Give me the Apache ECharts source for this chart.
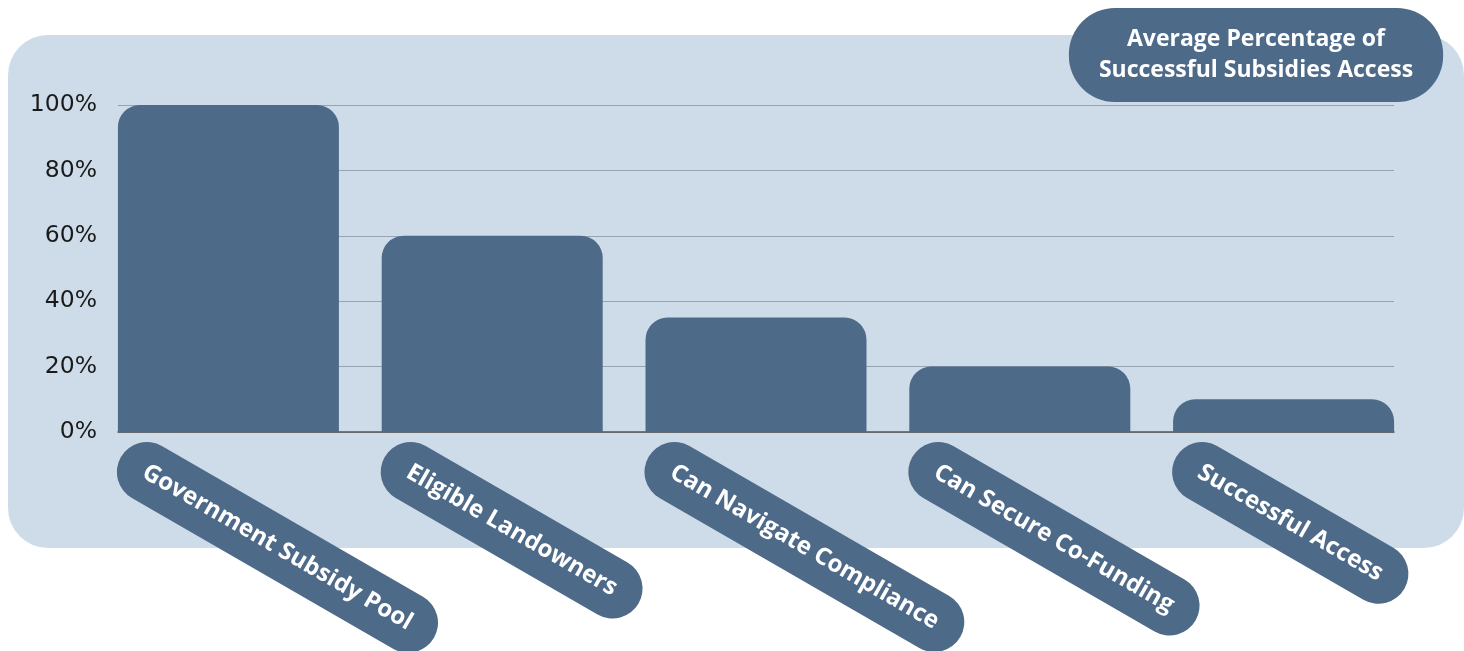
<!DOCTYPE html>
<html>
<head>
<meta charset="utf-8">
<script src="https://cdn.jsdelivr.net/npm/echarts@6/dist/echarts.min.js"></script>
<style>html,body{margin:0;padding:0;background:#fff}#c{width:1464px;height:651px}</style>
</head>
<body>
<div id="c"></div>
<script>
const categories = ['Government Subsidy Pool', 'Eligible Landowners', 'Can Navigate Compliance', 'Can Secure Co-Funding', 'Successful Access'];
const values = [100, 60, 35, 20, 10];
const titleLines = ['Average Percentage of', 'Successful Subsidies Access'];
const yTicks = { min: 0, max: 100, interval: 20 };

const DARK = '#4e6a89';
const PANEL = '#cddce8';
const chart = echarts.init(document.getElementById('c'));
const gTop = 105, gBottom = 651 - 432;
chart.setOption({
  animation: false,
  graphic: [
    { type: 'rect', z: -10, shape: { x: 8, y: 35, width: 1456, height: 513, r: 40 }, style: { fill: PANEL } },
    { type: 'text', z: 100, x: 1256, y: 55,
      style: { text: titleLines.join('\n'), align: 'center', verticalAlign: 'middle',
        fill: '#fff', font: 'bold 23px "Open Sans"', lineHeight: 31,
        backgroundColor: DARK, padding: [16, 30], borderRadius: 46 } }
  ],
  grid: [
    { left: 118, right: 70, top: gTop, bottom: gBottom, outerBoundsMode: 'none' },
    { left: 96.5, right: 48.5, top: gTop, bottom: gBottom, outerBoundsMode: 'none' },
    { left: -11, right: 156, top: gTop, bottom: gBottom, outerBoundsMode: 'none' }
  ],
  xAxis: [
    { type: 'category', gridIndex: 0, data: categories, axisTick: { show: false }, axisLabel: { show: false },
      axisLine: { show: true, lineStyle: { color: '#555', width: 1.5 } } },
    { type: 'category', gridIndex: 1, data: categories, show: false },
    { type: 'category', gridIndex: 2, data: categories, axisTick: { show: false }, axisLine: { show: false },
      axisLabel: { interval: 0, rotate: -30, align: 'left', verticalAlign: 'middle', margin: 25,
        color: '#fff', fontFamily: '"Open Sans"', fontWeight: 'bold', fontSize: 24, lineHeight: 26,
        backgroundColor: DARK, padding: [17, 27], borderRadius: 30 } }
  ],
  yAxis: [
    { type: 'value', gridIndex: 0, min: yTicks.min, max: yTicks.max, interval: yTicks.interval,
      axisLine: { show: false }, axisTick: { show: false },
      axisLabel: { formatter: '{value}%', margin: 21, color: '#1a1a1a', fontFamily: '"DejaVu Sans"', fontSize: 23.5 },
      splitLine: { lineStyle: { color: '#96a3b0', width: 1 } } },
    { type: 'value', gridIndex: 1, min: yTicks.min, max: yTicks.max, show: false },
    { type: 'value', gridIndex: 2, min: yTicks.min, max: yTicks.max, show: false }
  ],
  series: [{
    type: 'bar', xAxisIndex: 1, yAxisIndex: 1, data: values, barWidth: 221,
    itemStyle: { color: DARK, borderRadius: [22, 22, 0, 0] }
  }]
});
</script>
</body>
</html>
